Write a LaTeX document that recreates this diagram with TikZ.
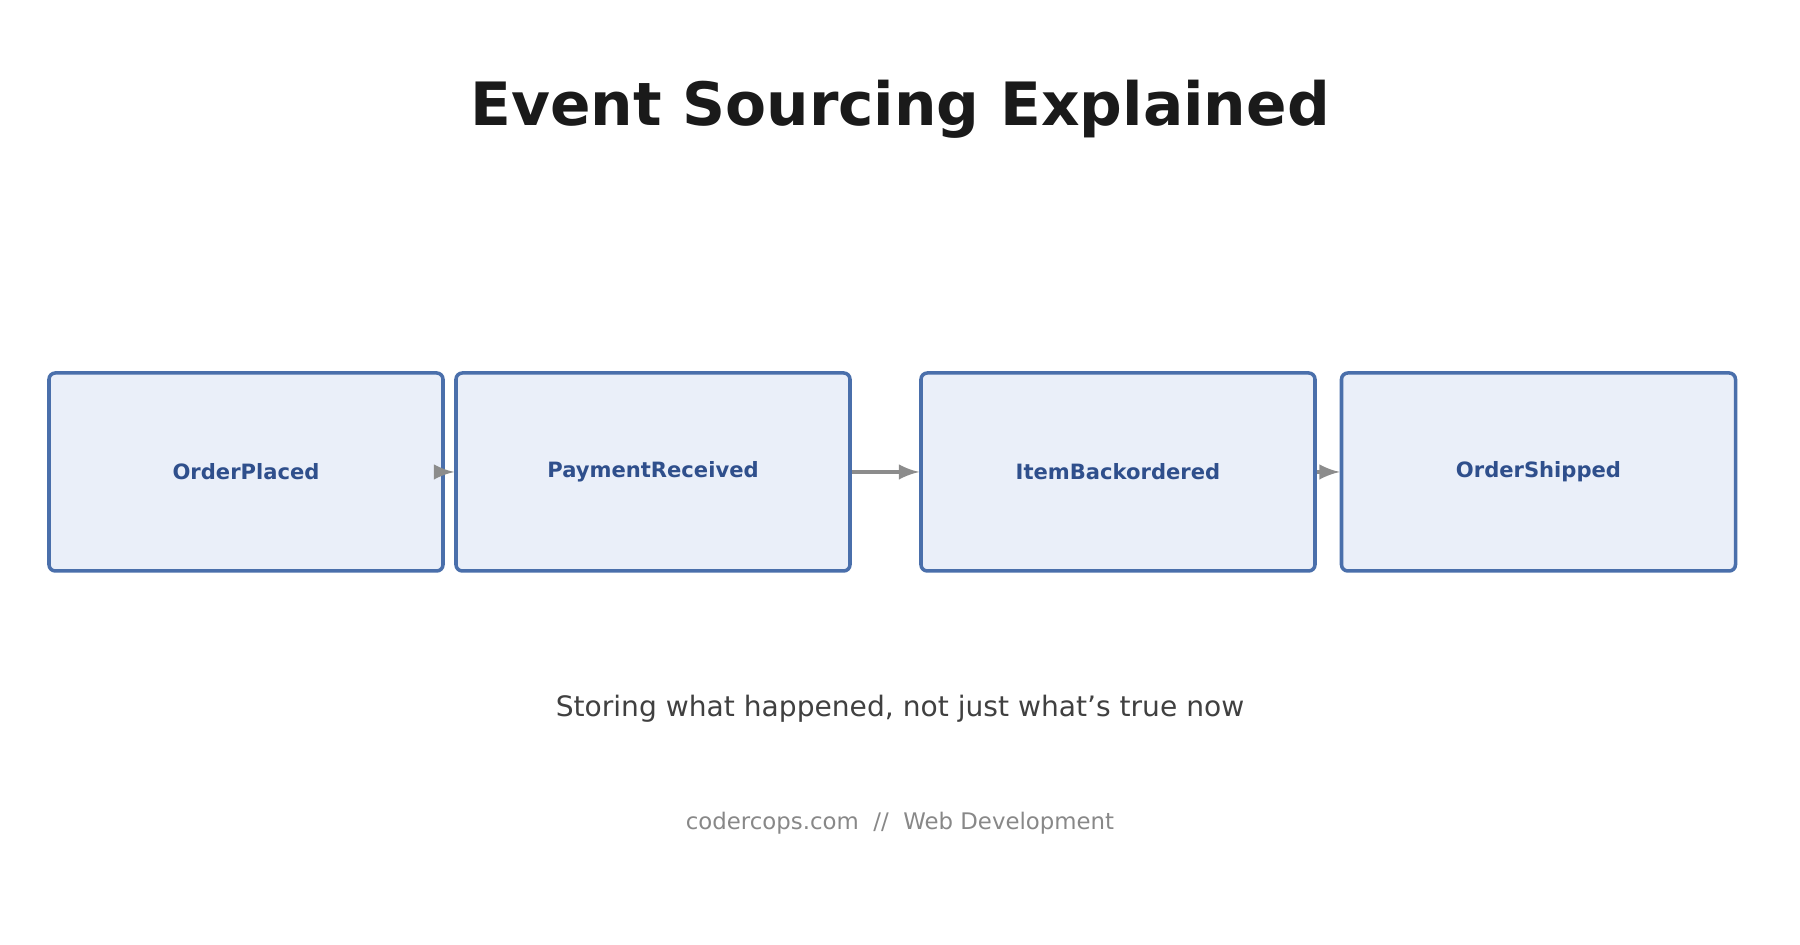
\documentclass[tikz,border=0pt]{standalone}
\usepackage{fontspec}
\setmainfont{DejaVu Sans}
\usetikzlibrary{positioning}
\definecolor{evfill}{HTML}{EAEFF9}
\definecolor{evline}{HTML}{4A6FAB}
\definecolor{evtext}{HTML}{2F4F8C}
\begin{document}
\begin{tikzpicture}
        \useasboundingbox (0,0) rectangle (18,9.45);
        \tikzset{event/.style={draw=evline, fill=evfill, line width=1pt, rounded corners=1.8pt,
                minimum width=3.94cm, minimum height=1.98cm, text=evtext,
                font=\fontsize{6}{7}\selectfont\bfseries}}

        \node (title) at (9,8.36) {\fontsize{17}{20}\selectfont\bfseries\color[HTML]{1A1A1A}Event Sourcing Explained};

        \node[event] (1) at (2.46,4.73) {OrderPlaced};
        \node[event] (2) at (6.53,4.73) {PaymentReceived};
        \node[event] (3) at (11.18,4.73) {ItemBackordered};
        \node[event] (4) at (15.385,4.73) {OrderShipped};

        \path[draw=gray!90,line width=1pt,->,>=latex] (1) -- (2);
        \path[draw=gray!90,line width=1pt,->,>=latex] (2) -- (3);
        \path[draw=gray!90,line width=1pt,->,>=latex] (3) -- (4);

        \node (sub) at (9,2.36) {\fontsize{8}{10}\selectfont\color[HTML]{404040}Storing what happened, not just what's true now};
        \node (foot) at (9,1.22) {\fontsize{6.5}{8}\selectfont\color[HTML]{888888}codercops.com~~//~~Web Development};
    \end{tikzpicture}
\end{document}
